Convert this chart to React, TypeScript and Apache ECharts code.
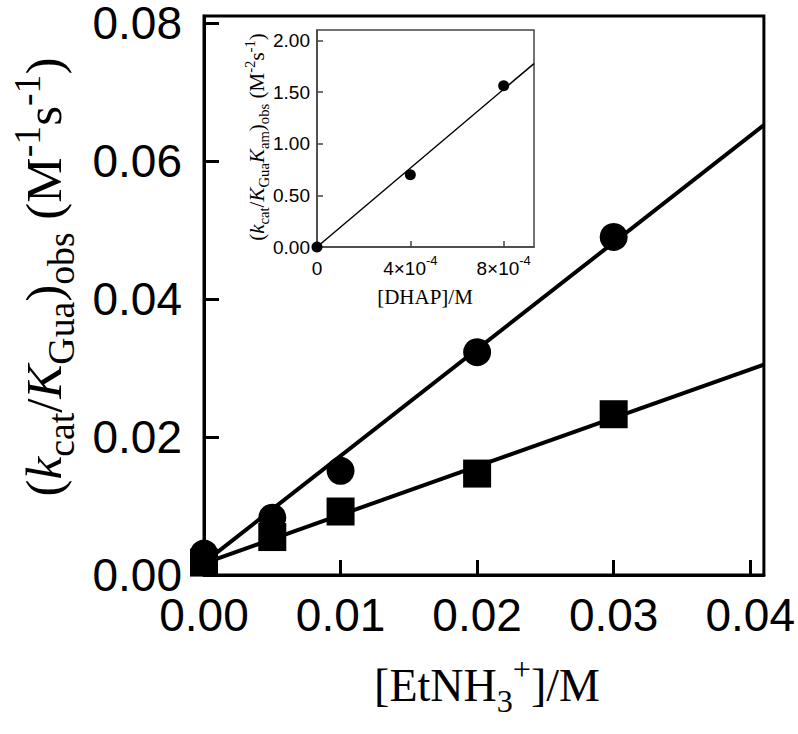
import React, { useEffect, useRef } from "react";
import * as echarts from "echarts";

// Main plot data
const etnh3 = [0, 0.005, 0.01, 0.02, 0.03];
const circleValues = [0.0031, 0.0083, 0.0151, 0.0323, 0.049];
const squareValues = [0.0018, 0.0055, 0.0092, 0.0147, 0.0233];
const fitX = [0, 0.041];
const circleFitY = [0.0018, 0.0652];
const squareFitY = [0.0017, 0.0305];
const xTicks = [0, 0.01, 0.02, 0.03, 0.04];
const yTicks = [0, 0.02, 0.04, 0.06, 0.08];

// Inset data
const dhap = [0, 0.0004, 0.0008];
const insetValues = [0, 0.7, 1.56];
const insetFitX = [0, 0.00093];
const insetFitY = [0, 1.775];
const insetXTicks = [0, 0.0004, 0.0008];
const insetYTicks = [0, 0.5, 1.0, 1.5, 2.0];

const SANS = "Liberation Sans, Arial, sans-serif";
const SERIF = "Liberation Serif, Times New Roman, serif";

export default function App() {
  const ref = useRef<HTMLDivElement>(null);
  useEffect(() => {
    if (!ref.current) return;
    const chart = echarts.init(ref.current, undefined, { renderer: "svg" });

    const pair = (xs: number[], ys: number[]) => xs.map((x, i) => [x, ys[i]]);

    const titleRich = (size: number, subRatio = 0.7) => ({
      n: { fontFamily: SERIF, fontSize: size, lineHeight: size * 1.4, verticalAlign: "middle", color: "#000" },
      i: { fontFamily: SERIF, fontSize: size, fontStyle: "italic", lineHeight: size * 1.4, verticalAlign: "middle", color: "#000" },
      sb: { fontFamily: SERIF, fontSize: size * subRatio, lineHeight: size * subRatio, verticalAlign: "bottom", color: "#000" },
      sp: { fontFamily: SERIF, fontSize: size * subRatio, lineHeight: size * (subRatio + 0.12), verticalAlign: "top", color: "#000" },
    });

    const option: any = {
      animation: false,
      backgroundColor: "#fff",
      grid: [
        {
          left: 204, top: 11, right: 31, bottom: 159,
          show: true, borderColor: "#000", borderWidth: 3, backgroundColor: "transparent",
        },
        {
          left: 317, top: 30, right: 264, bottom: 487,
          show: true, borderColor: "#444", borderWidth: 1.5, backgroundColor: "#fff",
        },
      ],
      xAxis: [
        {
          type: "value", gridIndex: 0, min: 0, max: 0.041, interval: 0.01,
          axisLine: { show: true, lineStyle: { color: "#000", width: 3 } },
          axisTick: { show: true, inside: true, length: 15, lineStyle: { color: "#000", width: 3 }, customValues: xTicks },
          axisLabel: {
            show: true, margin: 25, fontFamily: SANS, fontSize: 46, lineHeight: 30, color: "#000",
            customValues: xTicks,
            formatter: (v: number) => v.toFixed(2),
          },
          splitLine: { show: false },
        },
        {
          type: "value", gridIndex: 1, min: 0, max: 0.00093, interval: 0.0004,
          axisLine: { show: true, lineStyle: { color: "#444", width: 1.5 } },
          axisTick: { show: true, inside: true, length: 6, lineStyle: { color: "#444", width: 1.5 }, customValues: insetXTicks },
          axisLabel: {
            show: true, margin: 7, color: "#000", customValues: insetXTicks,
            formatter: (v: number) => (v === 0 ? "{b|0}" : `{b|${Math.round(v * 1e4)}×10}{s|-4}`),
            rich: {
              b: { fontFamily: SANS, fontSize: 19, lineHeight: 24, verticalAlign: "bottom", color: "#000" },
              s: { fontFamily: SANS, fontSize: 13, lineHeight: 24, verticalAlign: "top", color: "#000" },
            },
          },
          splitLine: { show: false },
        },
      ],
      yAxis: [
        {
          type: "value", gridIndex: 0, min: 0, max: 0.081, interval: 0.02,
          axisLine: { show: true, lineStyle: { color: "#000", width: 3 } },
          axisTick: { show: true, inside: true, length: 15, lineStyle: { color: "#000", width: 3 }, customValues: yTicks },
          axisLabel: {
            show: true, margin: 22, fontFamily: SANS, fontSize: 46, lineHeight: 30, color: "#000",
            customValues: yTicks,
            formatter: (v: number) => v.toFixed(2),
          },
          splitLine: { show: false },
        },
        {
          type: "value", gridIndex: 1, min: 0, max: 2.1, interval: 0.5,
          axisLine: { show: true, lineStyle: { color: "#444", width: 1.5 } },
          axisTick: { show: true, inside: true, length: 6, lineStyle: { color: "#444", width: 1.5 }, customValues: insetYTicks },
          axisLabel: {
            show: true, margin: 7, fontFamily: SANS, fontSize: 19, color: "#000",
            customValues: insetYTicks,
            formatter: (v: number) => v.toFixed(2),
          },
          splitLine: { show: false },
        },
      ],
      series: [
        {
          type: "line", xAxisIndex: 0, yAxisIndex: 0, data: pair(fitX, circleFitY),
          showSymbol: false, symbol: "none", lineStyle: { color: "#000", width: 4 }, z: 2,
        },
        {
          type: "line", xAxisIndex: 0, yAxisIndex: 0, data: pair(fitX, squareFitY),
          showSymbol: false, symbol: "none", lineStyle: { color: "#000", width: 4 }, z: 2,
        },
        {
          type: "scatter", xAxisIndex: 0, yAxisIndex: 0, data: pair(etnh3, circleValues),
          symbol: "circle", symbolSize: 28, itemStyle: { color: "#000", opacity: 1 }, z: 3, clip: false,
        },
        {
          type: "scatter", xAxisIndex: 0, yAxisIndex: 0, data: pair(etnh3, squareValues),
          symbol: "rect", symbolSize: 28, itemStyle: { color: "#000", opacity: 1 }, z: 3, clip: false,
        },
        {
          type: "line", xAxisIndex: 1, yAxisIndex: 1, data: pair(insetFitX, insetFitY),
          showSymbol: false, symbol: "none", lineStyle: { color: "#000", width: 1.5 }, z: 4,
        },
        {
          type: "scatter", xAxisIndex: 1, yAxisIndex: 1, data: pair(dhap, insetValues),
          symbol: "circle", symbolSize: 11, itemStyle: { color: "#000", opacity: 1 }, z: 5, clip: false,
        },
      ],
      graphic: [
        {
          type: "text", x: 44, y: 277, rotation: Math.PI / 2, z: 10,
          style: {
            text: "{n|(}{i|k}{sb|cat}{n|/}{i|K}{sb|Gua}{n|)}{sb|obs}{n| (M}{sp|-1}{n|s}{sp|-1}{n|)}",
            rich: titleRich(51, 0.74), align: "center", verticalAlign: "middle",
          },
        },
        {
          type: "text", x: 487, y: 685, z: 10,
          style: {
            text: "{n|[EtNH}{sb|3}{sp|+}{n|]/M}",
            rich: titleRich(46), align: "center", verticalAlign: "middle",
          },
        },
        {
          type: "text", x: 257, y: 137, rotation: Math.PI / 2, z: 10,
          style: {
            text: "{n|(}{i|k}{sb|cat}{n|/}{i|K}{sb|Gua}{i|K}{sb|am}{n|)}{sb|obs}{n| (M}{sp|-2}{n|s}{sp|-1}{n|)}",
            rich: titleRich(21), align: "center", verticalAlign: "middle",
          },
        },
        {
          type: "text", x: 425, y: 297, z: 10,
          style: {
            text: "{n|[DHAP]/M}",
            rich: titleRich(21), align: "center", verticalAlign: "middle",
          },
        },
      ],
    };
    chart.setOption(option);
    return () => chart.dispose();
  }, []);
  return <div ref={ref} style={{ position: "fixed", left: 0, top: 0, width: 798, height: 734 }} />;
}
